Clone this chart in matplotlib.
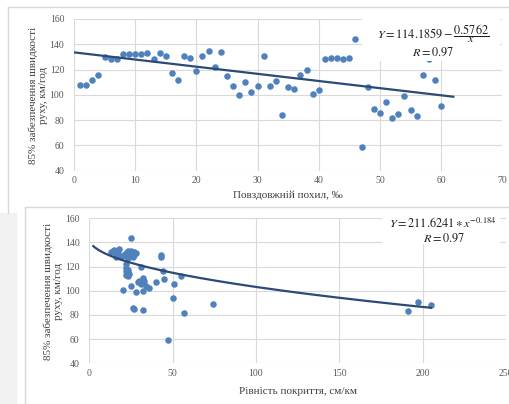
import numpy as np
import matplotlib
matplotlib.use("Agg")
import matplotlib.pyplot as plt
from matplotlib.lines import Line2D
from matplotlib.patches import Rectangle

plt.rcParams["font.family"] = ["Liberation Serif", "DejaVu Serif"]
plt.rcParams["mathtext.fontset"] = "stix"

# верхній графік: повздовжній похил, ‰
slope_x = list(range(1, 61))
slope_speed = [108, 108, 112, 116, 130, 128, 128, 132, 132, 132,
               132, 133, 128, 133, 131, 117, 112, 131, 129, 119,
               131, 135, 122, 134, 115, 107, 100, 110, 102, 107,
               131, 107, 111, 84, 106, 105, 116, 120, 101, 104,
               128, 129, 129, 128, 129, 144, 59, 106, 89, 86,
               94, 82, 85, 99, 88, 83, 116, 128.5, 112, 91]
slope_trend = [133.6, -0.566]          # лінія тренду (з графіка)
slope_trend_range = [0, 62]

# нижній графік: рівність покриття, см/км
rough_x = [13, 14, 15, 16, 17, 18, 19, 16, 21, 22, 23, 23, 24, 24, 25, 25,
           26, 26, 27, 27, 28, 22, 43, 43,
           22, 22, 23, 22, 23, 22, 23, 24, 31, 44, 45, 55,
           20, 25, 28, 29, 30, 31, 32, 33, 34, 32, 36, 40, 51,
           26, 27, 32, 50, 57, 74, 47, 191, 197, 205, 25]
rough_speed = [132, 133, 134, 130, 131, 135, 128, 128, 130, 129, 133, 127, 131, 129, 131, 144,
               132, 128, 132, 130, 131, 131, 128, 130,
               122, 119, 117, 116, 115, 113, 112, 114, 120, 116, 110, 112,
               101, 104, 99, 107, 108, 106, 111, 108, 104, 100, 102, 107, 106,
               86, 85, 84, 94, 82, 89, 59, 83, 91, 88, 133]
rough_trend = [143.2, -4.0]            # y = a + b*sqrt(x), з графіка
rough_trend_range = [2.4, 205]

W, H = 510, 404
fig = plt.figure(figsize=(W / 100, H / 100), dpi=100)

def fx(px):
    return px / W

def fy(py):
    return 1 - py / H

# рамки і сіра смуга зліва
grey = "#d9d9d9"
fig.add_artist(Line2D([fx(8), fx(510)], [fy(7), fy(7)], color=grey, lw=1))
fig.add_artist(Line2D([fx(8), fx(8)], [fy(7), fy(213)], color=grey, lw=1))
fig.add_artist(Line2D([fx(25), fx(510)], [fy(206.5), fy(206.5)], color=grey, lw=1))
fig.add_artist(Line2D([fx(25), fx(25)], [fy(206.5), fy(404)], color=grey, lw=1))
fig.add_artist(Rectangle((0, 0), fx(17), fy(213), color="#f2f2f2", lw=0))

dot_color = "#4f81bd"
line_color = "#2b4a77"
tick_color = "#595959"
label_color = "#404040"


def style(ax, xlim, xticks):
    ax.set_xlim(xlim)
    ax.set_ylim(40, 160)
    ax.set_xticks(xticks)
    ax.set_yticks(range(40, 161, 20))
    ax.grid(True, color=grey, lw=0.8)
    ax.set_axisbelow(True)
    for s in ax.spines.values():
        s.set_visible(False)
    ax.tick_params(length=0, labelsize=7, labelcolor=tick_color, pad=4)
    ax.tick_params(axis="y", pad=7)


ax1 = fig.add_axes([fx(74), fy(170.7), fx(502.3) - fx(74), fy(19) - fy(170.7)])
style(ax1, (0, 70), range(0, 71, 10))
ax1.scatter(slope_x, slope_speed, s=22, color=dot_color, zorder=3, lw=0)
tx = np.array(slope_trend_range)
ax1.plot(tx, slope_trend[0] + slope_trend[1] * tx, color=line_color, lw=1.6, zorder=4)

ax2 = fig.add_axes([fx(89.3), fy(363.3), fx(506) - fx(89.3), fy(218.3) - fy(363.3)])
style(ax2, (0, 250), range(0, 251, 50))
ax2.scatter(rough_x, rough_speed, s=22, color=dot_color, zorder=3, lw=0)
rx = np.linspace(rough_trend_range[0], rough_trend_range[1], 200)
ax2.plot(rx, rough_trend[0] + rough_trend[1] * np.sqrt(rx), color=line_color, lw=1.6, zorder=4)

# білі підкладки під рівняння
fig.add_artist(Rectangle((fx(362), fy(60.5)), fx(500) - fx(362), fy(19) - fy(60.5),
                         color="white", lw=0, zorder=5))
fig.add_artist(Rectangle((fx(382), fy(244)), fx(500) - fx(382), fy(218) - fy(244),
                         color="white", lw=0, zorder=5))

eq = dict(ha="center", va="center", fontsize=8.8, color="#1f1f1f", zorder=6)
fig.text(fx(433), fy(34), r"$Y = 114.1859 - \dfrac{0.5762}{x}$", **eq)
fig.text(fx(433), fy(52.5), r"$R = 0.97$", **eq)
fig.text(fx(443), fy(224), r"$Y = 211.6241 \ast x^{-0.184}$", **eq)
fig.text(fx(444), fy(238.5), r"$R = 0.97$", **eq)

lab = dict(ha="center", va="center", fontsize=8, color=label_color)
fig.text(fx(288), fy(195), "Повздовжній похил, ‰", **lab)
fig.text(fx(38), fy(95), "85% забезпечення швидкості\nруху, км/год", rotation=90,
         linespacing=1.1, **lab)
fig.text(fx(298), fy(391), "Рівність покриття, см/км", **lab)
fig.text(fx(53), fy(291), "85% забезпечення швидкості\nруху, км/год", rotation=90,
         linespacing=1.1, **lab)

fig.savefig("out.png", dpi=100, facecolor="white")
